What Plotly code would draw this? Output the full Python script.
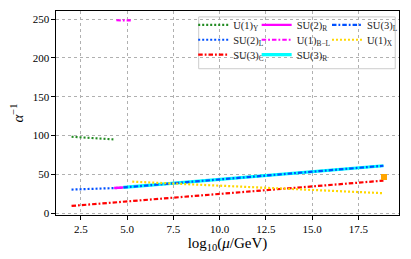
import plotly.graph_objects as go

# ---- data ----
names = ["U(1)<sub>Y</sub>", "SU(2)<sub>L</sub>", "SU(3)<sub>C</sub>",
         "SU(2)<sub>R</sub>", "U(1)<sub>B−L</sub>", "SU(3)<sub>R</sub>",
         "SU(3)<sub>L</sub>", "U(1)<sub>X</sub>"]

u1y_x = [2.0, 4.26]
u1y_y = [98.4, 95.0]

su2l_x = [2.0, 4.8]
su2l_y = [30.3, 32.6]

su3c_x = [2.0, 18.85]
su3c_y = [9.2, 41.8]

su2r_x = [4.3, 4.8]
su2r_y = [32.4, 32.9]

u1bl_x = [4.42, 5.2]
u1bl_y = [248.6, 248.4]

su3r_x = [4.8, 18.85]
su3r_y = [33.0, 61.0]

su3l_x = [4.8, 18.85]
su3l_y = [33.0, 61.0]

u1x_x = [5.28, 18.85]
u1x_y = [40.5, 25.6]

pt_x = [18.88]
pt_y = [46.5]

x_ticks = [2.5, 5.0, 7.5, 10.0, 12.5, 15.0, 17.5]
y_ticks = [0, 50, 100, 150, 200, 250]

# ---- styles ----
DOT = "2px,2px"
DASHDOT = "4.5px,2px,1.8px,2px"
series = [
    (u1y_x, u1y_y, "forestgreen", DOT, 2.2),
    (su2l_x, su2l_y, "#0050ff", DOT, 2.2),
    (su3c_x, su3c_y, "#ff0000", DASHDOT, 2.2),
    (su2r_x, su2r_y, "#ff00ff", "solid", 2.4),
    (u1bl_x, u1bl_y, "#ff00ff", DASHDOT, 2.2),
    (su3r_x, su3r_y, "#00ffff", "solid", 3.2),
    (su3l_x, su3l_y, "#0050ff", DASHDOT, 2.2),
    (u1x_x, u1x_y, "#ffd700", DOT, 2.2),
]

FONT = "Liberation Serif"

# legend placement (column, row) for each series, matplotlib ncol=3 ordering
pos = [(0, 0), (0, 1), (0, 2), (1, 0), (1, 1), (1, 2), (2, 0), (2, 1)]
col_x = [0.400, 0.585, 0.790]
row_y = [0.932, 0.859, 0.786]

fig = go.Figure()
layout_legends = {}
for i, ((xs, ys, col, dash, w), nm) in enumerate(zip(series, names)):
    lname = "legend" if i == 0 else f"legend{i+1}"
    fig.add_trace(go.Scatter(
        x=xs, y=ys, mode="lines", name=nm,
        line=dict(color=col, dash=dash, width=w),
        legend=lname, showlegend=True,
    ))
    c, r = pos[i]
    layout_legends[lname] = dict(
        x=col_x[c], y=row_y[r], xanchor="left", yanchor="middle",
        bgcolor="rgba(0,0,0,0)", borderwidth=0,
        font=dict(family=FONT, size=10.5, color="#222"),
        itemwidth=30, tracegroupgap=0,
    )

fig.add_trace(go.Scatter(
    x=pt_x, y=pt_y, mode="markers", showlegend=False,
    marker=dict(color="#ffa500", size=6, symbol="square"),
))

# page body has an 8px margin, so the figure is sized/placed to compensate
fig.update_layout(
    width=403, height=251,
    margin=dict(l=40, r=12, t=2, b=44),
    paper_bgcolor="white", plot_bgcolor="white",
    font=dict(family=FONT, size=11, color="black"),
    showlegend=True,
    **layout_legends,
)

fig.add_shape(type="rect", xref="paper", yref="paper",
              x0=0.416, x1=0.989, y0=0.717, y1=0.971,
              line=dict(color="#cccccc", width=1), fillcolor="rgba(255,255,255,0.8)",
              layer="below")

axis_common = dict(
    showline=True, linecolor="black", linewidth=1.2, mirror=True,
    ticks="outside", ticklen=3.5, tickwidth=1, tickcolor="black",
    showgrid=True, gridcolor="#b0b0b0", griddash="dot", gridwidth=1,
    zeroline=False, tickfont=dict(family=FONT, size=11),
)

fig.update_xaxes(
    range=[1.16, 19.69], tickvals=x_ticks,
    ticktext=[f"{v:.1f}" for v in x_ticks],
    title=dict(text="log<sub>10</sub>(<i>μ</i>/GeV)", font=dict(family=FONT, size=15), standoff=2),
    **axis_common,
)
fig.update_yaxes(
    range=[-2.5, 260.5], tickvals=y_ticks,
    ticktext=[str(v) for v in y_ticks],
    title=dict(text="<i>α</i><sup>−1</sup>", font=dict(family=FONT, size=15), standoff=12),
    **axis_common,
)

fig.write_html("out.html")
